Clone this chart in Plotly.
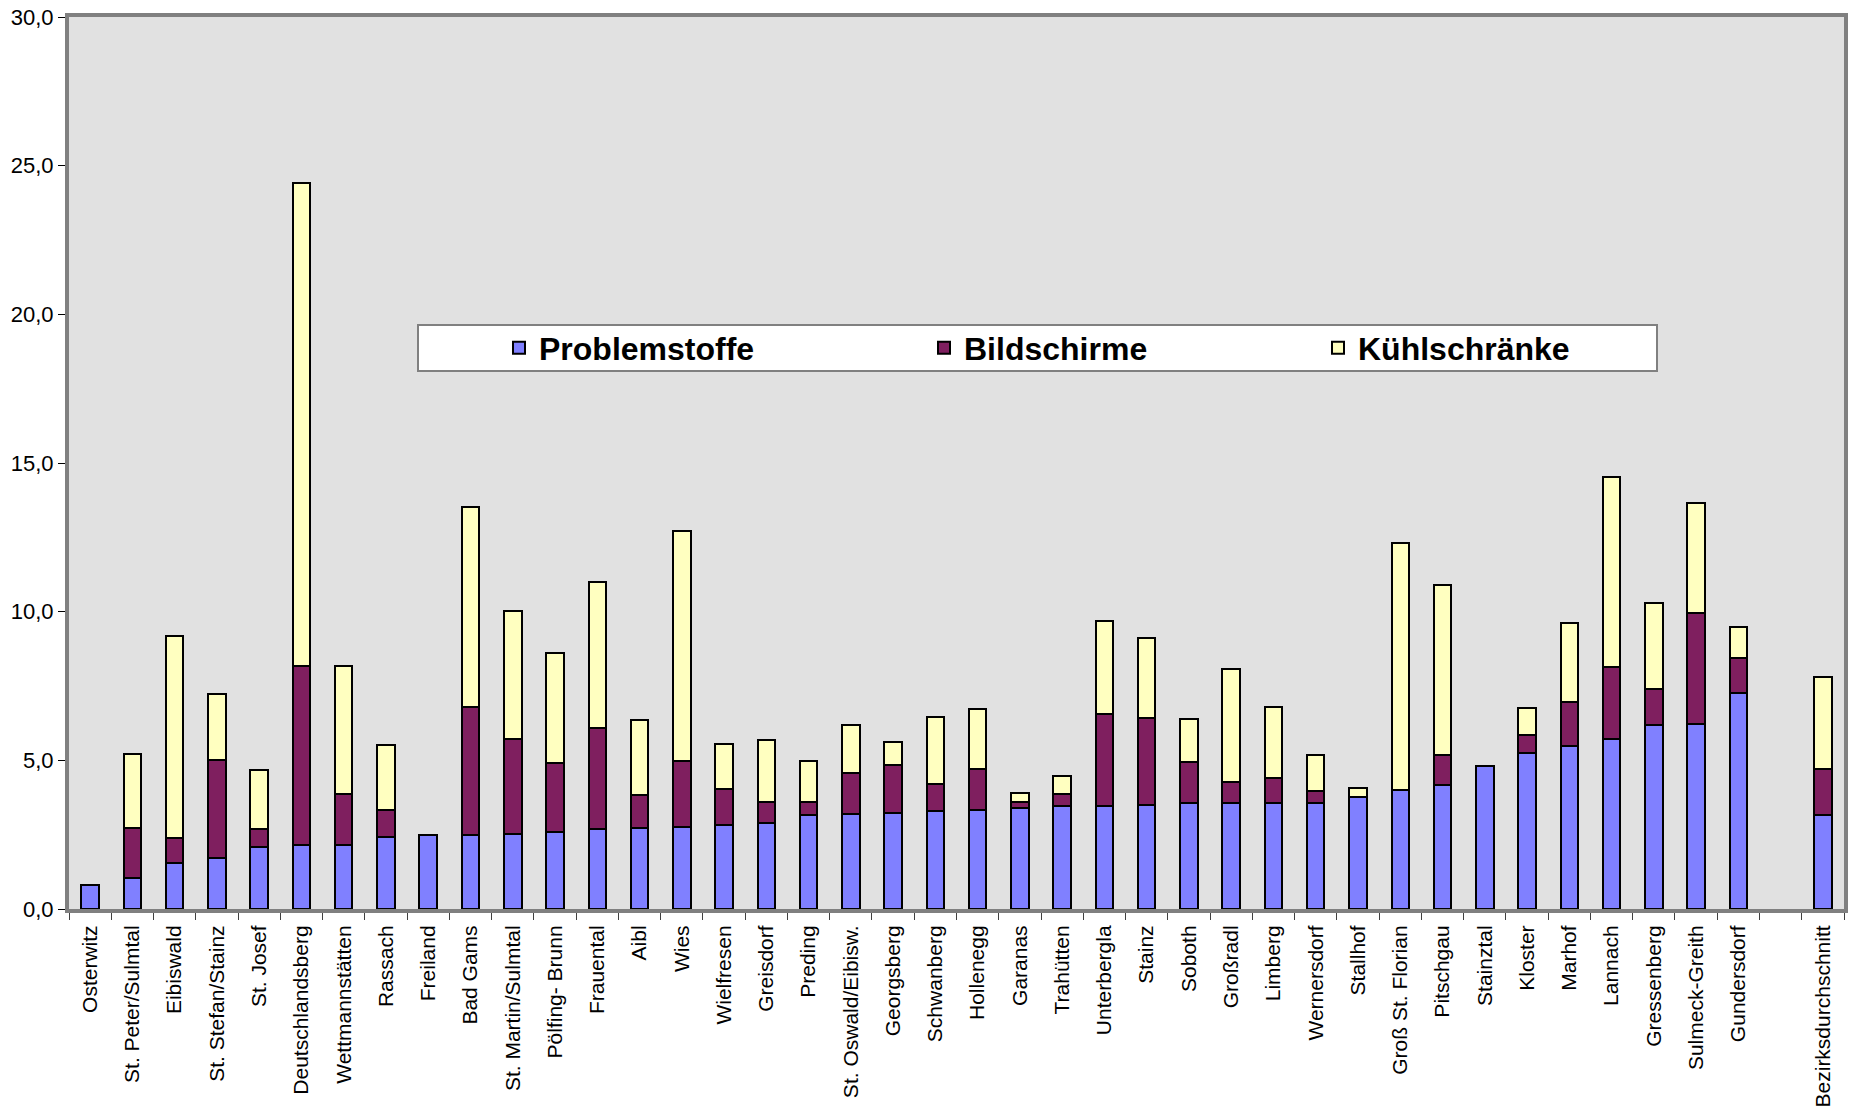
import plotly.graph_objects as go

# Gemeinden (plus a blank slot before the district average)
gemeinden = [
    "Osterwitz", "St. Peter/Sulmtal", "Eibiswald", "St. Stefan/Stainz", "St. Josef",
    "Deutschlandsberg", "Wettmannstätten", "Rassach", "Freiland", "Bad Gams",
    "St. Martin/Sulmtal", "Pölfing- Brunn", "Frauental", "Aibl", "Wies",
    "Wielfresen", "Greisdorf", "Preding", "St. Oswald/Eibisw.", "Georgsberg",
    "Schwanberg", "Hollenegg", "Garanas", "Trahütten", "Unterbergla",
    "Stainz", "Soboth", "Großradl", "Limberg", "Wernersdorf",
    "Stallhof", "Groß St. Florian", "Pitschgau", "Stainztal", "Kloster",
    "Marhof", "Lannach", "Gressenberg", "Sulmeck-Greith", "Gundersdorf",
    " ", "Bezirksdurchschnitt",
]

problemstoffe = [
    0.80, 1.03, 1.56, 1.72, 2.07, 2.16, 2.16, 2.42, 2.49, 2.49,
    2.53, 2.60, 2.68, 2.74, 2.76, 2.84, 2.88, 3.16, 3.18, 3.22,
    3.28, 3.32, 3.41, 3.45, 3.45, 3.51, 3.57, 3.55, 3.57, 3.57,
    3.78, 3.99, 4.16, 4.80, 5.24, 5.49, 5.73, 6.19, 6.22, 7.25,
    None, 3.17,
]

bildschirme = [
    None, 1.71, 0.82, 3.28, 0.61, 6.01, 1.72, 0.91, None, 4.30,
    3.20, 2.30, 3.40, 1.11, 2.21, 1.20, 0.71, 0.43, 1.41, 1.61,
    0.92, 1.38, 0.20, 0.41, 3.11, 2.90, 1.37, 0.73, 0.82, 0.40,
    None, None, 1.02, None, 0.60, 1.48, 2.40, 1.20, 3.72, 1.20,
    None, 1.53,
]

kuehlschraenke = [
    None, 2.48, 6.81, 2.22, 2.01, 16.24, 4.30, 2.20, None, 6.72,
    4.30, 3.71, 4.91, 2.50, 7.73, 1.52, 2.11, 1.38, 1.61, 0.79,
    2.27, 2.03, 0.30, 0.61, 3.11, 2.69, 1.45, 3.80, 2.40, 1.22,
    0.30, 8.31, 5.71, None, 0.92, 2.64, 6.41, 2.89, 3.71, 1.03,
    None, 3.11,
]

series = [
    ("Problemstoffe", problemstoffe, "#8080FF", "legend"),
    ("Bildschirme", bildschirme, "#7F1F5F", "legend2"),
    ("Kühlschränke", kuehlschraenke, "#FFFFC0", "legend3"),
]

fig = go.Figure()
for name, values, color, legend_id in series:
    fig.add_trace(go.Bar(
        x=gemeinden,
        y=values,
        name=name,
        legend=legend_id,
        marker=dict(color=color, line=dict(color="black", width=2)),
    ))

W, H = 1849, 1111
ML, MR, MT, MB = 69, 5, 17, 202
plot_w = W - ML - MR
plot_h = H - MT - MB


def px_x(px):
    """Horizontal pixel position -> paper fraction."""
    return (px - ML) / plot_w


def px_y(py):
    """Vertical pixel position (from top) -> paper fraction."""
    return 1 - (py - MT) / plot_h


def legend_entry(left_px):
    return dict(
        orientation="h",
        x=px_x(left_px),
        xanchor="left",
        y=px_y(348),
        yanchor="middle",
        bgcolor="rgba(0,0,0,0)",
        borderwidth=0,
        font=dict(size=32, weight="bold"),
    )


fig.update_layout(
    width=W,
    height=H,
    barmode="stack",
    bargap=0.586,
    margin=dict(l=ML, r=MR, t=MT, b=MB, autoexpand=False),
    plot_bgcolor="#E1E1E1",
    paper_bgcolor="white",
    separators=", ",
    font=dict(family="Arial, Liberation Sans, sans-serif", size=21, color="black"),
    showlegend=True,
    legend=legend_entry(499),
    legend2=legend_entry(924),
    legend3=legend_entry(1318),
)

fig.update_xaxes(
    type="category",
    categoryorder="array",
    categoryarray=gemeinden,
    tickangle=-90,
    ticks="outside",
    tickson="boundaries",
    ticklen=7,
    tickcolor="#404040",
    showline=True,
    linecolor="#808080",
    linewidth=4,
    mirror=True,
    showgrid=False,
    ticklabelstandoff=4,
)

fig.update_yaxes(
    range=[0, 30],
    dtick=5,
    tickformat=".1f",
    ticks="outside",
    ticklen=7,
    tickcolor="black",
    showline=True,
    linecolor="#808080",
    linewidth=4,
    mirror=True,
    showgrid=False,
    zeroline=False,
    ticklabelstandoff=0,
    tickfont=dict(size=22),
)

# white frame behind the legend entries
fig.add_shape(
    type="rect",
    xref="paper", yref="paper",
    x0=px_x(418), x1=px_x(1657),
    y0=px_y(325), y1=px_y(371),
    fillcolor="white",
    line=dict(color="#808080", width=2),
    layer="above",
)

fig.write_html("out.html")
